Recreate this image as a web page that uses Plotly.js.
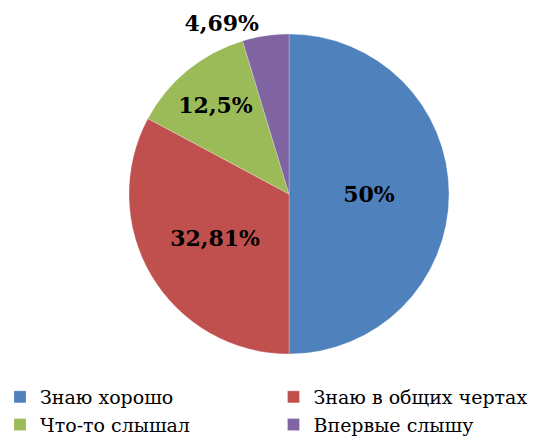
<!DOCTYPE html>
<html><head><meta charset="utf-8">
<script src="https://cdn.plot.ly/plotly-3.0.1.min.js"></script>
<style>html,body{margin:0;padding:0;background:#fff}</style>
</head><body><div id="chart" style="width:547px;height:444px"></div>
<script>
const categories = ["Знаю хорошо", "Знаю в общих чертах", "Что-то слышал", "Впервые слышу"];
const values = [50, 32.81, 12.5, 4.69];
const valueLabels = ["50%", "32,81%", "12,5%", "4,69%"];
const colors = ["#4F81BD", "#C0504D", "#9BBB59", "#8064A2"];

const W = 547, H = 444;
const trace = {
  type: "pie",
  labels: categories,
  values: values,
  text: valueLabels,
  textinfo: "text",
  sort: false,
  direction: "clockwise",
  rotation: 0,
  textposition: ["inside", "inside", "inside", "outside"],
  insidetextorientation: "horizontal",
  marker: {colors: colors, line: {color: "rgba(255,255,255,0.5)", width: 0.5}},
  textfont: {family: "DejaVu Serif", size: 22, color: "#000", weight: "bold"},
  domain: {x: [129/W, 449/W], y: [(H-354)/H, (H-34)/H]},
  hoverinfo: "none"
};
const layout = {
  width: W, height: H,
  margin: {l: 0, r: 0, t: 0, b: 0},
  paper_bgcolor: "#fff",
  showlegend: true,
  legend: {
    orientation: "h", x: 0, xanchor: "left", y: 0, yanchor: "bottom",
    entrywidth: 0.5, entrywidthmode: "fraction",
    bgcolor: "rgba(0,0,0,0)",
    font: {family: "DejaVu Serif", size: 19, color: "#000"},
    itemwidth: 30
  }
};
Plotly.newPlot("chart", [trace], layout, {displayModeBar: false, staticPlot: true});
</script></body></html>
